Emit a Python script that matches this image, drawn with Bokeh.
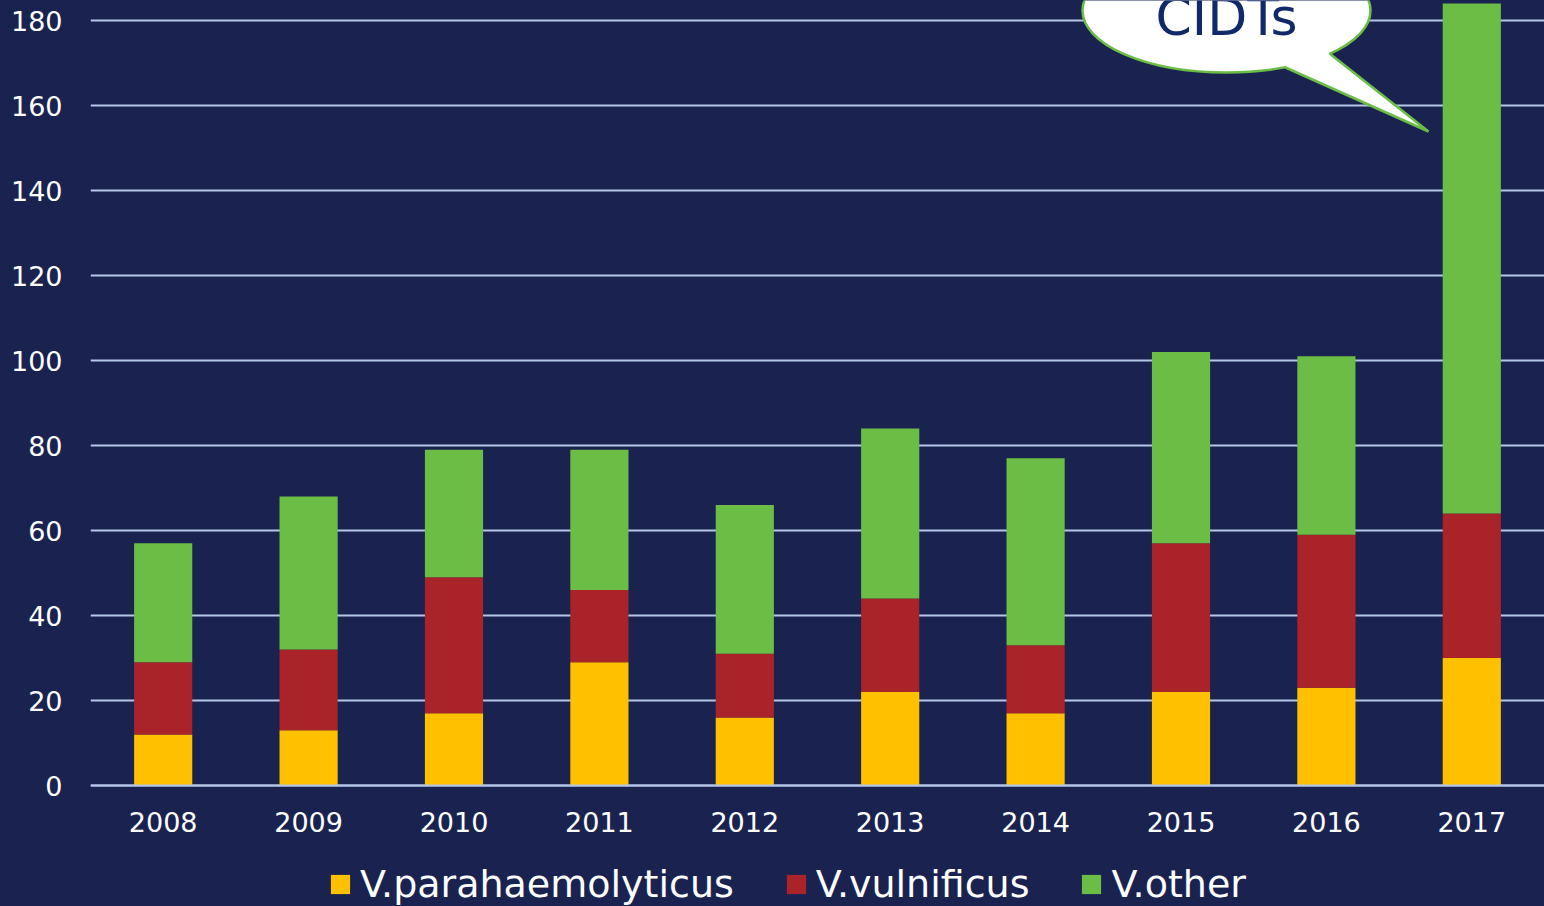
from bokeh.plotting import figure
from bokeh.models import FactorRange, Range1d, Legend, LegendItem, ColumnDataSource
from bokeh.embed import file_html
from bokeh.resources import INLINE
from bokeh.core.properties import value

years = ["2008", "2009", "2010", "2011", "2012", "2013", "2014", "2015", "2016", "2017"]
v_parahaemolyticus = [12, 13, 17, 29, 16, 22, 17, 22, 23, 30]
v_vulnificus = [17, 19, 32, 17, 15, 22, 16, 35, 36, 34]
v_other = [28, 36, 30, 33, 35, 40, 44, 45, 42, 120]
series_labels = ["V.parahaemolyticus", "V.vulnificus", "V.other"]
y_ticks = [0, 20, 40, 60, 80, 100, 120, 140, 160, 180]
callout_text = "CIDTs"

BG = "#1a2350"
GRID = "#b4c7e7"
COLORS = ["#ffc000", "#aa2329", "#6cbd45"]
FONT = "DejaVu Sans"

W, H = 1544, 906
left = 90
PXU = 4.25          # pixels per unit on y
Y0 = 785            # pixel row of y = 0

p = figure(width=W, height=H, output_backend="svg", toolbar_location=None,
           x_range=FactorRange(factors=years, range_padding=0),
           y_range=Range1d(-(H - Y0) / PXU, Y0 / PXU),
           min_border_left=left, min_border_right=0, min_border_top=0,
           min_border_bottom=0)
p.background_fill_color = BG
p.border_fill_color = BG
p.outline_line_color = None

src = ColumnDataSource(dict(year=years, a=v_parahaemolyticus, b=v_vulnificus, c=v_other))
renderers = p.vbar_stack(["a", "b", "c"], x="year", width=0.4, color=COLORS,
                         line_color=None, source=src)

# axes
p.xgrid.grid_line_color = None
p.ygrid.grid_line_color = GRID
p.ygrid.grid_line_width = 2
p.yaxis.ticker = y_ticks
p.yaxis.axis_line_color = None
p.yaxis.major_tick_line_color = None
p.yaxis.minor_tick_line_color = None
p.yaxis.major_label_text_color = "white"
p.yaxis.major_label_text_font = FONT
p.yaxis.major_label_text_font_size = "27px"
p.yaxis.major_label_standoff = 22

p.xaxis.fixed_location = 0
p.xaxis.axis_line_color = GRID
p.xaxis.axis_line_width = 2
p.xaxis.major_tick_line_color = None
p.xaxis.minor_tick_line_color = None
p.xaxis.major_label_text_color = "white"
p.xaxis.major_label_text_font = FONT
p.xaxis.major_label_text_font_size = "27px"
p.xaxis.major_label_standoff = 20

# callout bubble (annotation, in data units)
def px_x(px):
    return (px - left) / ((W - left) / len(years))

def px_y(py):
    return (Y0 - py) / PXU

green = COLORS[2]
unit_x = (W - left) / len(years)
p.ellipse(x=[px_x(1226)], y=[px_y(10)], width=[288 / unit_x], height=[124 / PXU],
          fill_color="white", line_color=green, line_width=2.5)
b1 = (px_x(1285), px_y(67))
tip = (px_x(1428), px_y(131))
b2 = (px_x(1329), px_y(53))
inner = (px_x(1300), px_y(40))
p.patch([b1[0], tip[0], b2[0], inner[0]], [b1[1], tip[1], b2[1], inner[1]],
        fill_color="white", line_color=None)
p.line([b1[0], tip[0], b2[0]], [b1[1], tip[1], b2[1]], line_color=green, line_width=2.5)
p.text(x=[px_x(1226)], y=[px_y(16)], text=[callout_text], text_align="center",
       text_baseline="alphabetic", text_font=value(FONT), text_font_size="52px",
       text_color="#10296a")

legend = Legend(items=[LegendItem(label=l, renderers=[r]) for l, r in zip(series_labels, renderers)],
                orientation="horizontal", location=(238, 0),
                background_fill_alpha=0, border_line_color=None,
                label_text_color="white", label_text_font=FONT, label_text_font_size="38px",
                glyph_width=24, glyph_height=24, label_standoff=8, spacing=50,
                padding=0, margin=0)
p.add_layout(legend, "center")

html = file_html(p, INLINE)
html = html.replace("</head>", "<style>html,body{margin:0;padding:0;background:%s;overflow:hidden}</style></head>" % BG, 1)
open("out.html", "w").write(html)
